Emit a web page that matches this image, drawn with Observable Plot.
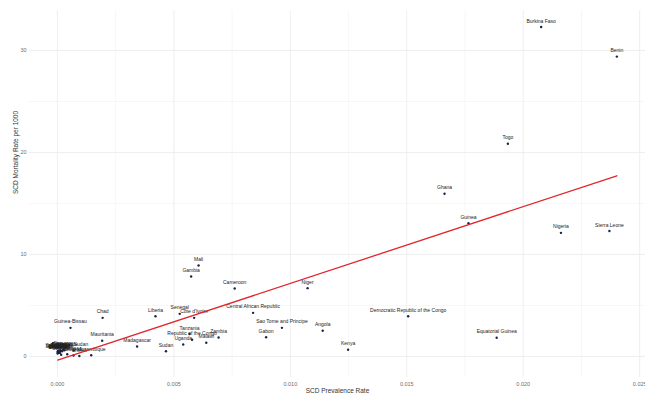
<!DOCTYPE html>
<html>
<head>
<meta charset="utf-8">
<script src="https://cdn.jsdelivr.net/npm/d3@7"></script>
<script src="https://cdn.jsdelivr.net/npm/@observablehq/plot@0.6"></script>
<style>
  html, body { margin: 0; padding: 0; background: #fff; }
  svg { display: block; }
</style>
</head>
<body>
<div id="chart"></div>
<script>
const countries = [
  "Burkina Faso","Benin","Togo","Ghana","Guinea","Nigeria","Sierra Leone",
  "Democratic Republic of the Congo","Equatorial Guinea","Cameroon","Niger",
  "Central African Republic","Sao Tome and Principe","Angola","Gabon","Kenya",
  "Zambia","Malawi","Mali","Gambia","Liberia","Senegal","Côte d'Ivoire",
  "Tanzania","Republic of the Congo","Uganda","Sudan","Madagascar",
  "Guinea-Bissau","Chad","Mauritania","Mozambique","Eritrea",
  "Algeria","Egypt","Libya","Morocco","Tunisia","Mauritius","Cabo Verde",
  "Ethiopia","Somalia","Djibouti","Rwanda","Burundi","Lesotho","Eswatini",
  "Botswana","Namibia","South Africa","Zimbabwe","Comoros","Seychelles","South Sudan"
];
const prevalence = [
  0.02077,0.02402,0.01934,0.01662,0.01765,0.02162,0.0237,
  0.01506,0.01886,0.00761,0.01074,
  0.0084,0.00964,0.01139,0.00896,0.01248,
  0.00692,0.00639,0.00606,0.00574,0.00421,0.00525,0.00587,
  0.00567,0.00578,0.0054,0.00466,0.00342,
  0.00056,0.00194,0.00192,0.00145,0.00094,
  0.00004,0.00006,0.00003,0.00002,0.00003,0.0001,0.0003,
  0.00015,0.00016,0.00012,0.00042,0.00069,0.00001,0.00002,
  0.00008,0.00005,0.00007,0.0002,0.00025,0.00001,0.0007
];
const mortality = [
  32.3,29.4,20.85,15.95,13.07,12.12,12.3,
  3.95,1.83,6.67,6.7,
  4.28,2.81,2.52,1.89,0.66,
  1.86,1.34,8.92,7.84,3.95,4.18,3.79,
  2.2,1.64,1.18,0.52,0.98,
  2.81,3.79,1.54,0.12,0.05,
  0.45,0.5,0.55,0.4,0.48,0.35,0.6,
  0.55,0.17,0.62,0.22,0.1,0.3,0.35,
  0.4,0.38,0.42,0.52,0.65,0.5,0.6
];
const xTicks = [0, 0.005, 0.010, 0.015, 0.020, 0.025];
const xMinor = [0.0025, 0.0075, 0.0125, 0.0175, 0.0225];
const yTicks = [0, 10, 20, 30];
const yMinor = [5, 15, 25];
const xTitle = "SCD Prevalence Rate";
const yTitle = "SCD Mortality Rate per 1000";

const data = countries.map((c, i) => ({country: c, prev: prevalence[i], mort: mortality[i]}));

const chart = Plot.plot({
  width: 645,
  height: 397,
  marginLeft: 29,
  marginRight: 0,
  marginTop: 10,
  marginBottom: 20,
  style: {fontFamily: "'Liberation Sans', Arial, sans-serif", background: "#fff"},
  x: {domain: [-0.0012, 0.02525], label: null},
  y: {domain: [-2.06, 33.92], label: null},
  marks: [
    Plot.ruleX(xMinor, {stroke: "#f2f2f2", strokeWidth: 0.6}),
    Plot.ruleY(yMinor, {stroke: "#f2f2f2", strokeWidth: 0.6}),
    Plot.ruleX(xTicks, {stroke: "#ebebeb", strokeWidth: 0.8}),
    Plot.ruleY(yTicks, {stroke: "#ebebeb", strokeWidth: 0.8}),
    Plot.axisX({ticks: xTicks, tickFormat: d3.format(".3f"), tickSize: 0, tickPadding: 5, fontSize: 5.5, color: "#6e6e6e", label: null}),
    Plot.axisY({ticks: yTicks, tickFormat: d3.format("d"), tickSize: 0, tickPadding: 3, fontSize: 5.5, color: "#6e6e6e", label: null}),
    Plot.dot(data, {x: "prev", y: "mort", r: 1.2, fill: "#1c2340", stroke: "none"}),
    Plot.text(data, {x: "prev", y: "mort", text: "country", dy: -6, fontSize: 5, fill: "#222"}),
    Plot.linearRegressionY(data, {x: "prev", y: "mort", ci: 0, stroke: "#e0262a", strokeWidth: 1.3}),
    Plot.text([xTitle], {frameAnchor: "bottom", dy: 15, fontSize: 6.5, fill: "#333"}),
    Plot.text([yTitle], {frameAnchor: "left", dx: -14, rotate: -90, fontSize: 6.5, fill: "#333"})
  ]
});
document.getElementById("chart").appendChild(chart);
</script>
</body>
</html>
